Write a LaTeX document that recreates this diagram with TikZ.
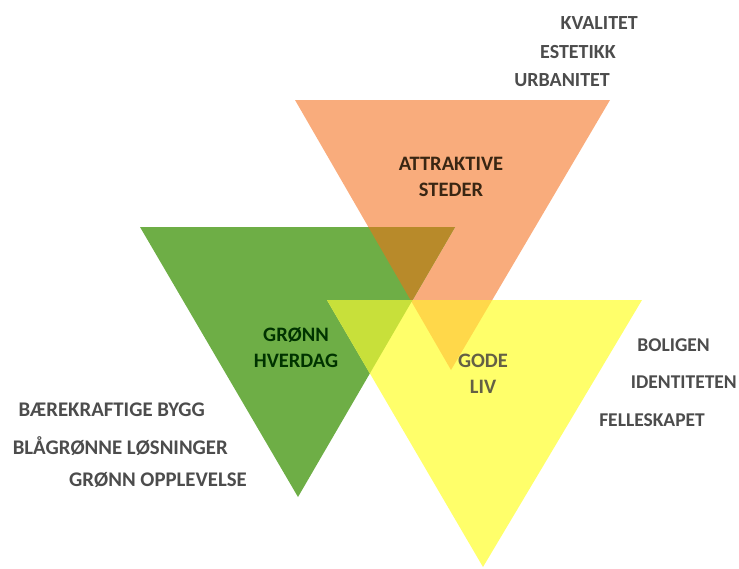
\documentclass[tikz,border=0pt]{standalone}
\usepackage{fontspec}
\setmainfont{Carlito}
\usepackage{xcolor}
\usetikzlibrary{positioning}

\definecolor{triorange}{HTML}{F9AC7C}
\definecolor{trigreen}{HTML}{6EAE46}
\definecolor{triyellow}{HTML}{FFFF6A}
\definecolor{mixbrown}{HTML}{B88A2A}
\definecolor{mixlime}{HTML}{C8E03A}
\definecolor{mixgold}{HTML}{FFD84A}

\tikzset{
  %% Title inside a triangle
  tlabel/.style={
    align=center, font=\fontsize{20.5}{26}\selectfont\bfseries,
    text=#1, inner sep=1pt
  },
  tlabel/.default=black!80,
  %% Keyword beside a triangle
  kword/.style={
    font=\fontsize{#1}{23}\selectfont\bfseries,
    text=black!70, inner sep=1pt, anchor=east
  },
  kword/.default=20.8,
}

\begin{document}
\begin{tikzpicture}[x=1pt, y=-1pt]
  \useasboundingbox (0,0) rectangle (739,568);

  %% Triangles
  \def\orangetri{(295,100) -- (610,100) -- (451,370) -- cycle}
  \def\greentri{(140,227) -- (455,227) -- (298,497) -- cycle}
  \def\yellowtri{(327,300) -- (642,300) -- (483,567) -- cycle}

  \fill[triorange] \orangetri;
  \fill[trigreen]  \greentri;
  \fill[triyellow] \yellowtri;

  %% Overlaps
  \begin{scope}
    \clip \orangetri;
    \fill[mixbrown] \greentri;
    \fill[mixgold]  \yellowtri;
  \end{scope}
  \begin{scope}
    \clip \greentri;
    \fill[mixlime] \yellowtri;
  \end{scope}

  %% Titles
  \node[tlabel=black!70!brown] (attr) at (451,177) {ATTRAKTIVE\\STEDER};
  \node[tlabel=black!80!green] (gronn) at (296,348) {GRØNN\\HVERDAG};
  \node[tlabel=black!70!yellow] (gode) at (483,374) {GODE\\LIV};

  %% Keywords, top right
  \node[kword=20] (kval) at (639,23) {KVALITET};
  \node[kword=20] (este) at (617,52) {ESTETIKK};
  \node[kword=20] (urba) at (611,80) {URBANITET};

  %% Keywords, right
  \node[kword=19.5] (bolig) at (711,345) {BOLIGEN};
  \node[kword=19.5] (ident) at (738,382) {IDENTITETEN};
  \node[kword=19.5] (felle) at (706,420) {FELLESKAPET};

  %% Keywords, left
  \node[kword] (bygg) at (206,410) {BÆREKRAFTIGE BYGG};
  \node[kword] (blaa) at (229,446) {BLÅGRØNNE LØSNINGER};
  \node[kword] (oppl) at (248,480) {GRØNN OPPLEVELSE};

\end{tikzpicture}
\end{document}
